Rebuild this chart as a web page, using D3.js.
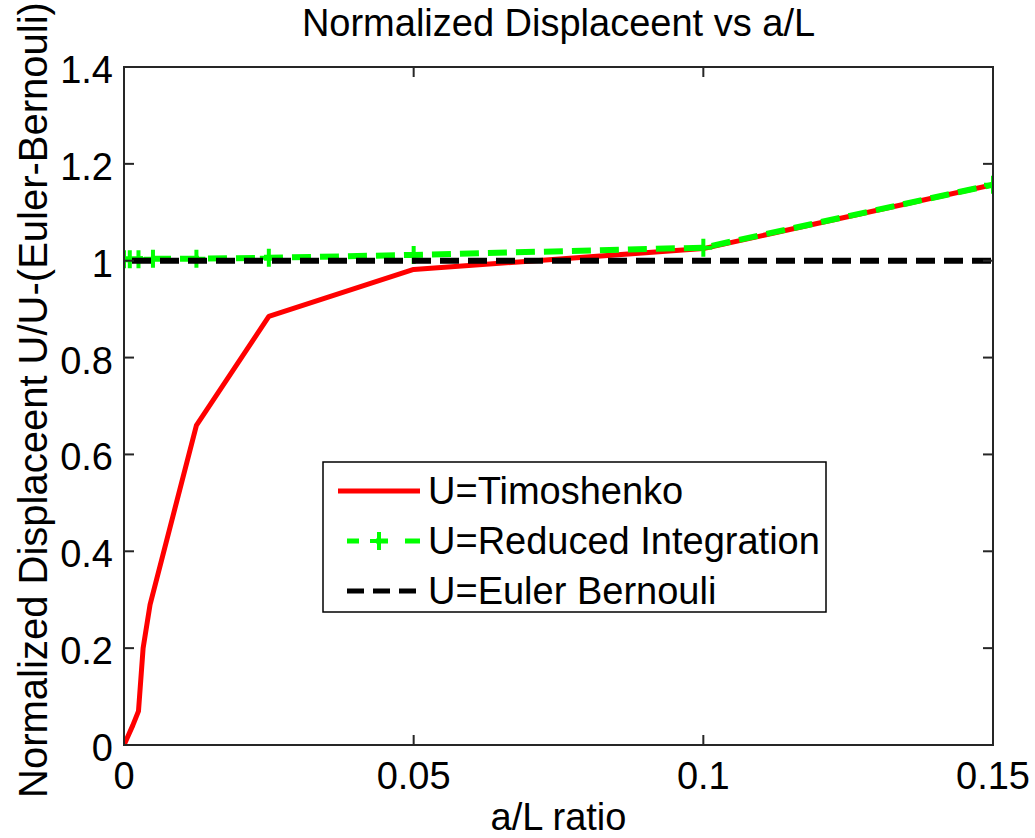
<!DOCTYPE html>
<html lang="en">
<head>
<meta charset="UTF-8">
<title>Normalized Displaceent vs a/L</title>
<script src="https://d3js.org/d3.v7.min.js"></script>
<style>
  body { margin: 0; background: #fff; }
  text { font-family: "Liberation Sans", Arial, sans-serif; fill: #000; }
</style>
</head>
<body>
<svg id="chart" width="1035" height="838"></svg>
<script>
// data
var timoX = [0, 0.0015, 0.0025, 0.0033, 0.0045, 0.0125, 0.025, 0.05, 0.1, 0.15];
var timoY = [0, 0.04, 0.07, 0.2, 0.29, 0.66, 0.885, 0.982, 1.025, 1.157];
var reducedX = [0, 0.001, 0.0025, 0.005, 0.0125, 0.025, 0.05, 0.1, 0.15];
var reducedY = [1.003, 1.003, 1.003, 1.004, 1.004, 1.006, 1.012, 1.027, 1.157];
var eulerX = [0, 0.15];
var eulerY = [1, 1];
var xTicks = [0, 0.05, 0.1, 0.15];
var yTicks = [0, 0.2, 0.4, 0.6, 0.8, 1, 1.2, 1.4];
var legendNames = ["U=Timoshenko", "U=Reduced Integration", "U=Euler Bernouli"];

var svg = d3.select("#chart");
// axes box in pixels
var boxL = 124, boxR = 993, boxT = 67, boxB = 745;

var x = d3.scaleLinear().domain([0, 0.15]).range([boxL, boxR]);
var y = d3.scaleLinear().domain([0, 1.4]).range([boxB, boxT]);

var line = d3.line()
  .x(function(d){ return x(d[0]); })
  .y(function(d){ return y(d[1]); });

var timo = d3.zip(timoX, timoY);
var reduced = d3.zip(reducedX, reducedY);
var euler = d3.zip(eulerX, eulerY);

// clip to the axes box
svg.append("clipPath").attr("id", "box")
  .append("rect").attr("x", boxL).attr("y", boxT)
  .attr("width", boxR - boxL).attr("height", boxB - boxT);
var plot = svg.append("g").attr("clip-path", "url(#box)");

// red solid
plot.append("path")
  .attr("d", line(timo))
  .attr("fill", "none")
  .attr("stroke", "#ff0000")
  .attr("stroke-width", 5)
  .attr("stroke-linejoin", "round");

// green dashed with plus markers
plot.append("path")
  .attr("d", line(reduced))
  .attr("fill", "none")
  .attr("stroke", "#00ff00")
  .attr("stroke-width", 6)
  .attr("stroke-dasharray", "19,9");

plot.selectAll(".plus")
  .data(reduced)
  .enter()
  .append("path")
    .attr("class", "plus")
    .attr("d", function(d){
      var cx = x(d[0]), cy = y(d[1]), s = 9;
      return "M" + (cx - s) + "," + cy + "H" + (cx + s) + "M" + cx + "," + (cy - s) + "V" + (cy + s);
    })
    .attr("stroke", "#00ff00")
    .attr("stroke-width", 4);

// black dashed
plot.append("path")
  .attr("d", line(euler))
  .attr("fill", "none")
  .attr("stroke", "#000")
  .attr("stroke-width", 6)
  .attr("stroke-dasharray", "19,9")
  .attr("stroke-dashoffset", 20);

// axes box and ticks
var axes = svg.append("g");
axes.append("rect")
  .attr("x", boxL).attr("y", boxT)
  .attr("width", boxR - boxL).attr("height", boxB - boxT)
  .attr("fill", "none")
  .attr("stroke", "#262626")
  .attr("stroke-width", 2);

var tl = 10;
xTicks.forEach(function(t){
  axes.append("line").attr("x1", x(t)).attr("x2", x(t)).attr("y1", boxB).attr("y2", boxB - tl)
    .attr("stroke", "#262626").attr("stroke-width", 2);
  axes.append("line").attr("x1", x(t)).attr("x2", x(t)).attr("y1", boxT).attr("y2", boxT + tl)
    .attr("stroke", "#262626").attr("stroke-width", 2);
});
yTicks.forEach(function(t){
  axes.append("line").attr("x1", boxL).attr("x2", boxL + tl).attr("y1", y(t)).attr("y2", y(t))
    .attr("stroke", "#262626").attr("stroke-width", 2);
  axes.append("line").attr("x1", boxR).attr("x2", boxR - tl).attr("y1", y(t)).attr("y2", y(t))
    .attr("stroke", "#262626").attr("stroke-width", 2);
});

var fs = 38;
axes.selectAll(".xt")
  .data(xTicks)
  .enter()
  .append("text")
    .attr("x", function(d){ return x(d); })
    .attr("y", 789)
    .attr("text-anchor", "middle")
    .style("font-size", fs + "px")
    .text(function(d){ return d; });

axes.selectAll(".yt")
  .data(yTicks)
  .enter()
  .append("text")
    .attr("x", 113)
    .attr("y", function(d){ return y(d) + 16; })
    .attr("text-anchor", "end")
    .style("font-size", fs + "px")
    .text(function(d){ return d; });

// title and axis labels
svg.append("text")
  .attr("x", (boxL + boxR) / 2)
  .attr("y", 36)
  .attr("text-anchor", "middle")
  .style("font-size", fs + "px")
  .text("Normalized Displaceent vs a/L");

svg.append("text")
  .attr("x", (boxL + boxR) / 2)
  .attr("y", 830)
  .attr("text-anchor", "middle")
  .style("font-size", fs + "px")
  .text("a/L ratio");

svg.append("text")
  .attr("transform", "translate(47,400) rotate(-90)")
  .attr("text-anchor", "middle")
  .style("font-size", "40px")
  .text("Normalized Displaceent U/U-(Euler-Bernouli)");

// legend
var lg = svg.append("g");
lg.append("rect")
  .attr("x", 323).attr("y", 462)
  .attr("width", 503).attr("height", 150)
  .attr("fill", "#fff")
  .attr("stroke", "#000")
  .attr("stroke-width", 1.5);

var rowY = [491, 541, 591];
lg.append("line").attr("x1", 338).attr("x2", 420).attr("y1", rowY[0]).attr("y2", rowY[0])
  .attr("stroke", "#ff0000").attr("stroke-width", 5);
lg.append("line").attr("x1", 347).attr("x2", 420).attr("y1", rowY[1]).attr("y2", rowY[1])
  .attr("stroke", "#00ff00").attr("stroke-width", 5).attr("stroke-dasharray", "12,17,12,17,20");
lg.append("path")
  .attr("d", "M370," + rowY[1] + "H388M379," + (rowY[1] - 9) + "V" + (rowY[1] + 9))
  .attr("stroke", "#00ff00").attr("stroke-width", 4);
lg.append("line").attr("x1", 347).attr("x2", 420).attr("y1", rowY[2]).attr("y2", rowY[2])
  .attr("stroke", "#000").attr("stroke-width", 5).attr("stroke-dasharray", "17,9");

lg.selectAll(".lt")
  .data(legendNames)
  .enter()
  .append("text")
    .attr("x", 428)
    .attr("y", function(d, i){ return rowY[i] + 13; })
    .style("font-size", fs + "px")
    .text(function(d){ return d; });
</script>
</body>
</html>
